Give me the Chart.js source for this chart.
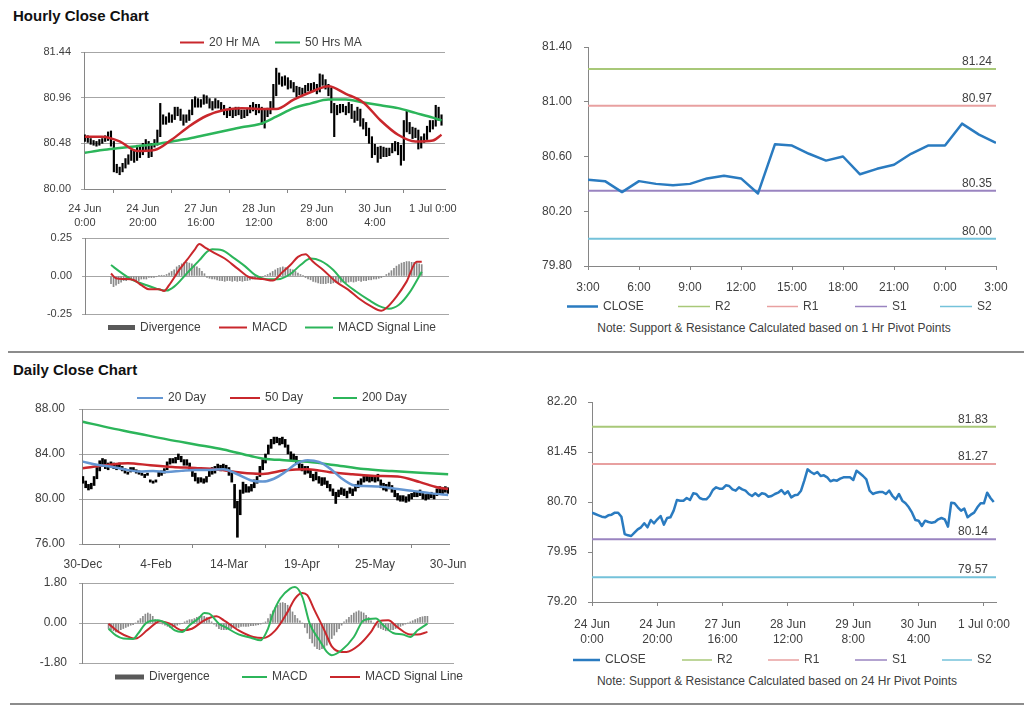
<!DOCTYPE html>
<html>
<head>
<meta charset="utf-8">
<title>Hourly and Daily Close Charts</title>
<script src="https://cdn.jsdelivr.net/npm/chart.js@4.4.1/dist/chart.umd.min.js"></script>
<style>
  html, body { margin: 0; padding: 0; background: #fff; }
  #page { position: relative; width: 1024px; height: 706px; overflow: hidden; font-family: 'Liberation Sans', Arial, sans-serif; }
  #page canvas { position: absolute; left: 0; top: 0; }
  .title { position: absolute; left: 13px; font-weight: bold; font-size: 15px; line-height: 18px; color: #111; }
  .note { position: absolute; font-size: 12px; line-height: 14px; color: #404040; white-space: nowrap; transform: translateX(-50%); }
  .rule { position: absolute; height: 2px; background: #8c8c8c; }
</style>
</head>
<body>
<div id="page">
  <div class="title" style="top:7px">Hourly Close Chart</div>
  <div class="title" style="top:361px">Daily Close Chart</div>
  <div class="rule" style="left:8px;top:351px;width:1016px"></div>
  <div class="rule" style="left:10px;top:703px;width:1014px"></div>
  <div class="note" style="left:774px;top:321px">Note: Support &amp; Resistance Calculated based on 1 Hr Pivot Points</div>
  <div class="note" style="left:777px;top:674px">Note: Support &amp; Resistance Calculated based on 24 Hr Pivot Points</div>
  <canvas id="hourlyPrice" width="1024" height="706"></canvas>
  <canvas id="hourlyMacd" width="1024" height="706"></canvas>
  <canvas id="lastDay" width="1024" height="706"></canvas>
  <canvas id="dailyPrice" width="1024" height="706"></canvas>
  <canvas id="dailyMacd" width="1024" height="706"></canvas>
  <canvas id="week" width="1024" height="706"></canvas>
</div>
<script>
// ---- hourly data (24 Jun 0:00 .. 1 Jul 3:00) ----
const hourlyTickIdx = [0, 20, 40, 60, 80, 100, 120];
const hourlyTickLabels = [['24 Jun', '0:00'], ['24 Jun', '20:00'], ['27 Jun', '16:00'], ['28 Jun', '12:00'], ['29 Jun', '8:00'], ['30 Jun', '4:00'], ['1 Jul 0:00']];

const hourlyClose = [
  80.54, 80.52, 80.50, 80.48, 80.47, 80.50, 80.51, 80.54, 80.54, 80.48,
  80.22, 80.20, 80.19, 80.24, 80.29, 80.32, 80.38, 80.32, 80.43, 80.38,
  80.44, 80.49, 80.36, 80.46, 80.47, 80.57, 80.73, 80.72, 80.72, 80.76,
  80.73, 80.83, 80.82, 80.76, 80.74, 80.74, 80.79, 80.88, 80.92, 80.90,
  80.90, 80.95, 80.94, 80.89, 80.87, 80.92, 80.89, 80.87, 80.82, 80.79,
  80.83, 80.79, 80.83, 80.82, 80.78, 80.79, 80.82, 80.84, 80.88, 80.82,
  80.86, 80.77, 80.80, 80.81, 80.87, 81.02, 81.19, 81.15, 81.12, 81.15,
  81.09, 81.10, 81.07, 81.01, 81.03, 81.02, 81.05, 81.07, 81.07, 81.07,
  81.03, 81.17, 81.13, 81.09, 81.04, 80.87, 80.82, 80.84, 80.85, 80.85,
  80.82, 80.87, 80.79, 80.74, 80.82, 80.72, 80.68, 80.62, 80.54, 80.43,
  80.42, 80.34, 80.42, 80.40, 80.39, 80.40, 80.44, 80.46, 80.44, 80.33,
  80.69, 80.68, 80.62, 80.57, 80.60, 80.47, 80.51, 80.54, 80.62, 80.68,
  80.68, 80.84, 80.76, 80.70
];
const hourlyLow = [
  80.50, 80.49, 80.47, 80.46, 80.45, 80.46, 80.48, 80.50, 80.51, 80.45,
  80.18, 80.17, 80.15, 80.18, 80.22, 80.26, 80.30, 80.28, 80.30, 80.33,
  80.36, 80.40, 80.33, 80.34, 80.44, 80.46, 80.55, 80.68, 80.68, 80.70,
  80.70, 80.73, 80.77, 80.72, 80.67, 80.70, 80.72, 80.78, 80.86, 80.86,
  80.86, 80.89, 80.90, 80.85, 80.83, 80.85, 80.85, 80.83, 80.78, 80.75,
  80.77, 80.75, 80.77, 80.78, 80.74, 80.75, 80.77, 80.80, 80.82, 80.78,
  80.80, 80.68, 80.64, 80.76, 80.79, 80.84, 80.98, 81.10, 81.08, 81.09,
  81.05, 81.06, 81.02, 80.97, 80.99, 80.98, 81.01, 81.03, 81.03, 81.03,
  81.00, 81.02, 81.09, 81.05, 80.98, 80.80, 80.55, 80.78, 80.80, 80.81,
  80.78, 80.80, 80.74, 80.70, 80.72, 80.66, 80.63, 80.56, 80.48, 80.33,
  80.36, 80.28, 80.32, 80.34, 80.34, 80.35, 80.38, 80.40, 80.36, 80.25,
  80.30, 80.60, 80.58, 80.53, 80.54, 80.42, 80.43, 80.49, 80.52, 80.60,
  80.63, 80.66, 80.72, 80.67
];
const hourlyHigh = [
  80.57, 80.56, 80.53, 80.51, 80.50, 80.52, 80.53, 80.56, 80.60, 80.61,
  80.50, 80.26, 80.23, 80.27, 80.32, 80.36, 80.41, 80.40, 80.46, 80.45,
  80.48, 80.52, 80.50, 80.48, 80.52, 80.62, 80.90, 80.78, 80.76, 80.80,
  80.78, 80.86, 80.86, 80.84, 80.78, 80.78, 80.83, 80.94, 80.97, 80.95,
  80.94, 80.99, 80.98, 80.95, 80.92, 80.95, 80.93, 80.91, 80.88, 80.84,
  80.86, 80.84, 80.86, 80.86, 80.83, 80.83, 80.85, 80.88, 80.91, 80.89,
  80.89, 80.86, 80.83, 80.85, 80.92, 81.10, 81.27, 81.22, 81.18, 81.19,
  81.17, 81.14, 81.12, 81.08, 81.07, 81.06, 81.09, 81.11, 81.11, 81.12,
  81.10, 81.21, 81.20, 81.15, 81.10, 81.06, 80.90, 80.88, 80.89, 80.89,
  80.87, 80.91, 80.89, 80.82, 80.86, 80.84, 80.74, 80.70, 80.64, 80.55,
  80.47, 80.44, 80.45, 80.44, 80.43, 80.43, 80.48, 80.50, 80.49, 80.46,
  80.72, 80.82, 80.70, 80.65, 80.64, 80.62, 80.55, 80.58, 80.66, 80.72,
  80.72, 80.88, 80.86, 80.78
];
const hourlyMaIdx = [0, 6, 12, 18, 24, 30, 36, 42, 48, 54, 60, 66, 72, 78, 84, 90, 96, 102, 108, 114, 120, 123];
const hourlyMa20 = [80.55, 80.55, 80.50, 80.40, 80.41, 80.52, 80.66, 80.77, 80.83, 80.85, 80.84, 80.84, 80.94, 81.02, 81.08, 81.00, 80.91, 80.72, 80.57, 80.50, 80.51, 80.57];
const hourlyMa50 = [80.38, 80.41, 80.43, 80.45, 80.47, 80.50, 80.53, 80.57, 80.61, 80.65, 80.68, 80.76, 80.85, 80.90, 80.94, 80.94, 80.91, 80.88, 80.85, 80.80, 80.75, 80.72];
const hourlyPriceTicks = [80.00, 80.48, 80.96, 81.44];

const hourlyMacdIdx = [0, 2, 5, 9, 12, 15, 19, 21, 23, 27, 30, 33, 35, 37, 40, 45, 50, 55, 60, 64, 68, 71, 74, 77, 80, 84, 89, 94, 98, 103, 107, 109, 113, 117, 121, 123];
const hourlyMacd = [0.017, -0.015, -0.02, -0.026, -0.06, -0.087, -0.087, -0.098, -0.06, 0.04, 0.104, 0.17, 0.21, 0.19, 0.16, 0.115, 0.05, -0.01, -0.02, -0.03, 0.028, 0.072, 0.126, 0.143, 0.093, 0.04, -0.037, -0.091, -0.146, -0.2, -0.228, -0.21, -0.135, -0.037, 0.093, 0.093];
const hourlySignalIdx = [0, 4, 8, 13, 18, 22, 25, 30, 35, 38, 40, 44, 48, 53, 57, 62, 66, 71, 75, 79, 83, 88, 92, 97, 102, 106, 110, 114, 118, 123];
const hourlySignal = [0.072, 0.022, -0.022, -0.054, -0.083, -0.096, -0.07, 0.017, 0.104, 0.159, 0.176, 0.17, 0.126, 0.065, 0.007, -0.022, -0.022, 0.013, 0.072, 0.115, 0.1, 0.04, -0.037, -0.102, -0.157, -0.196, -0.215, -0.189, -0.113, 0.028];
const hourlyDivergence = [
  -0.05, -0.07, -0.06, -0.05, -0.04, -0.03, -0.03, -0.02, -0.02, -0.02,
  -0.03, -0.03, -0.02, -0.02, -0.02, -0.01, -0.01, -0.01, -0.005, 0.005,
  0.005, 0.005, 0.01, 0.02, 0.03, 0.04, 0.06, 0.07, 0.08, 0.09,
  0.09, 0.085, 0.08, 0.07, 0.06, 0.05, 0.03, 0.015, -0.01, -0.015,
  -0.02, -0.02, -0.025, -0.03, -0.03, -0.035, -0.03, -0.03, -0.035, -0.03,
  -0.035, -0.03, -0.035, -0.03, -0.03, -0.025, -0.02, -0.02, -0.015, -0.01,
  -0.005, 0.005, 0.01, 0.02, 0.03, 0.04, 0.05, 0.055, 0.06, 0.055,
  0.05, 0.045, 0.04, 0.03, 0.02, 0.01, 0.005, -0.01, -0.02, -0.025,
  -0.035, -0.04, -0.045, -0.05, -0.05, -0.05, -0.045, -0.05, -0.045, -0.04,
  -0.045, -0.04, -0.04, -0.045, -0.04, -0.035, -0.04, -0.035, -0.03, -0.035,
  -0.03, -0.03, -0.025, -0.025, -0.02, -0.02, -0.015, -0.01, -0.005, 0.01,
  0.02, 0.035, 0.05, 0.065, 0.075, 0.085, 0.09, 0.095, 0.095, 0.09,
  0.09, 0.085, 0.08, 0.075
];
const hourlyMacdTicks = [-0.25, 0, 0.25];

// last 24 hours (right-hand hourly chart)
const lastDayStart = 99;
const lastDayClose = hourlyClose.slice(lastDayStart);
const lastDayTickIdx = [0, 3, 6, 9, 12, 15, 18, 21, 24];
const lastDayTickLabels = ['3:00', '6:00', '9:00', '12:00', '15:00', '18:00', '21:00', '0:00', '3:00'];
const lastDayTicks = [79.80, 80.20, 80.60, 81.00, 81.40];

const pivotNames = ['R2', 'R1', 'S1', 'S2'];
const hourlyPivotLevels = [81.24, 80.97, 80.35, 80.00];
const dailyPivotLevels = [81.83, 81.27, 80.14, 79.57];
const weekTicks = [79.20, 79.95, 80.70, 81.45, 82.20];

// ---- daily data (30-Dec .. 30-Jun) ----
const dailyTickIdx = [0, 26, 52, 78, 104, 130];
const dailyTickLabels = ['30-Dec', '4-Feb', '14-Mar', '19-Apr', '25-May', '30-Jun'];
const dailyLow = [
  81.4, 81.0, 80.8, 80.9, 81.2, 81.8, 82.5, 82.9, 82.7, 82.6,
  82.8, 82.7, 82.6, 82.8, 82.5, 82.3, 82.2, 82.4, 82.5, 82.3,
  82.2, 82.1, 81.9, 82.1, 81.5, 81.4, 81.5, 82.0, 82.1, 82.3,
  82.6, 83.1, 83.2, 83.2, 83.5, 83.3, 83.0, 83.0, 82.6, 82.0,
  81.6, 81.4, 81.5, 81.4, 81.5, 82.0, 82.2, 82.3, 82.6, 82.5,
  82.6, 82.5, 82.1, 81.5, 79.2, 76.6, 78.6, 80.5, 80.6, 80.6,
  80.7, 81.0, 81.4, 82.0, 82.6, 83.2, 84.0, 84.5, 84.9, 85.0,
  84.8, 84.9, 84.6, 84.0, 83.5, 83.4, 83.1, 82.7, 82.5, 82.2,
  82.3, 81.9, 81.6, 81.7, 81.4, 81.2, 81.3, 81.0, 80.7, 80.3,
  79.6, 80.2, 80.4, 80.3, 80.1, 80.5, 80.3, 80.7, 81.0, 81.2,
  81.5, 81.6, 81.5, 81.6, 81.5, 81.6, 81.0, 80.8, 80.7, 80.9,
  80.6, 80.2, 79.9, 79.8, 79.8, 79.7, 79.8, 80.0, 80.2, 80.2,
  80.3, 80.0, 79.9, 80.0, 80.1, 80.0, 80.3, 80.5, 80.4, 80.6,
  80.5
];
const dailyHigh = [
  82.0, 81.6, 81.3, 81.4, 82.0, 82.8, 83.4, 83.6, 83.5, 83.2,
  83.3, 83.2, 83.1, 83.2, 82.9, 82.7, 82.4, 82.8, 82.8, 82.6,
  82.5, 82.3, 82.2, 82.3, 81.7, 81.6, 81.7, 82.4, 82.5, 82.7,
  83.3, 83.6, 83.6, 83.7, 84.0, 83.8, 83.5, 83.5, 83.2, 82.8,
  82.3, 81.9, 81.9, 81.8, 82.0, 82.6, 82.8, 82.9, 83.1, 83.0,
  83.1, 83.0, 82.8, 82.3, 81.3, 79.8, 80.8, 81.5, 81.3, 81.1,
  81.3, 81.7, 82.0, 82.9, 83.5, 84.0, 84.8, 85.3, 85.5, 85.5,
  85.4, 85.5, 85.3, 84.8, 84.2, 84.0, 83.8, 83.4, 83.1, 82.9,
  82.9, 82.6, 82.2, 82.4, 82.0, 81.9, 81.9, 81.6, 81.3, 80.9,
  80.6, 80.8, 81.0, 80.9, 80.7, 81.0, 80.9, 81.3, 81.6, 81.8,
  82.0, 82.1, 82.0, 82.1, 82.0, 82.2, 81.7, 81.4, 81.3, 81.5,
  81.2, 80.8, 80.5, 80.3, 80.3, 80.2, 80.4, 80.5, 80.7, 80.7,
  80.8, 80.5, 80.4, 80.5, 80.6, 80.5, 80.9, 81.1, 81.0, 81.1,
  81.0
];
const dailyMa20Idx = [0, 5, 10, 15, 20, 25, 30, 35, 40, 45, 50, 55, 60, 64, 68, 72, 76, 80, 84, 88, 92, 96, 100, 106, 112, 118, 124, 130];
const dailyMa20 = [83.32, 83.05, 82.87, 82.62, 82.45, 82.50, 82.40, 82.50, 82.58, 82.58, 82.65, 82.20, 81.65, 81.55, 81.80, 82.40, 83.15, 83.45, 83.30, 82.70, 81.85, 81.25, 81.15, 81.10, 80.88, 80.70, 80.50, 80.36];
const dailyMa50Idx = [0, 8, 16, 24, 32, 40, 48, 56, 64, 72, 80, 88, 96, 104, 112, 120, 126, 130];
const dailyMa50 = [82.73, 83.00, 83.18, 83.00, 82.85, 82.75, 82.62, 82.35, 82.22, 82.55, 82.65, 82.38, 82.20, 82.05, 82.00, 81.50, 81.05, 80.88];
const dailyMa200Idx = [0, 10, 20, 30, 40, 50, 60, 65, 70, 80, 90, 100, 110, 120, 130];
const dailyMa200 = [86.87, 86.30, 85.80, 85.30, 84.85, 84.40, 83.80, 83.55, 83.48, 83.30, 83.00, 82.66, 82.48, 82.33, 82.21];
const dailyPriceTicks = [76, 80, 84, 88];

const dailyMacdIdx = [0, 3, 6, 10, 12, 15, 17, 20, 24, 27, 30, 33, 37, 39, 41, 45, 48, 53, 58, 62, 65, 67, 70, 74, 76, 79, 82, 86, 89, 91, 95, 100, 104, 109, 112, 116, 120, 123, 126, 130];
const dailyMacd = [-0.26, -0.56, -0.7, -0.72, -0.48, -0.03, 0.09, 0.12, -0.06, -0.33, -0.4, -0.1, 0.24, 0.45, 0.42, -0.03, -0.21, -0.51, -0.66, -0.78, -0.26, 0.42, 1.1, 1.55, 1.62, 1.17, -0.03, -0.78, -1.3, -1.45, -1.23, -0.63, 0.12, 0.2, -0.1, -0.45, -0.52, -0.63, -0.33, -0.03];
const dailySignalIdx = [0, 4, 9, 11, 16, 21, 25, 30, 34, 39, 44, 47, 53, 59, 63, 68, 73, 76, 79, 81, 84, 88, 91, 95, 97, 102, 107, 110, 114, 118, 123, 126, 130];
const dailySignal = [-0.03, -0.4, -0.66, -0.7, -0.3, 0.08, -0.03, -0.33, -0.26, 0.12, 0.3, 0.12, -0.33, -0.63, -0.68, -0.33, 0.5, 1.1, 1.35, 1.25, 0.57, -0.33, -1.05, -1.3, -1.3, -1.0, -0.4, 0.08, 0.12, -0.21, -0.52, -0.52, -0.4];
const dailyDivergence = [
  -0.25, -0.3, -0.35, -0.4, -0.35, -0.3, -0.25, -0.2, -0.15, -0.1,
  -0.08, 0.0, 0.1, 0.2, 0.3, 0.4, 0.45, 0.4, 0.3, 0.15,
  0.05, 0.0, -0.05, -0.1, -0.15, -0.2, -0.2, -0.15, -0.1, -0.05,
  -0.02, 0.05, 0.1, 0.15, 0.15, 0.2, 0.25, 0.3, 0.3, 0.3,
  0.25, 0.15, 0.05, -0.05, -0.15, -0.25, -0.3, -0.3, -0.3, -0.25,
  -0.25, -0.2, -0.2, -0.2, -0.15, -0.15, -0.15, -0.15, -0.12, -0.12,
  -0.1, -0.08, -0.05, 0.0, 0.05, 0.2, 0.4, 0.55, 0.7, 0.8,
  0.9, 0.92, 0.88, 0.8, 0.65, 0.5, 0.35, 0.2, 0.1, 0.0,
  -0.2, -0.45, -0.7, -0.9, -1.05, -1.15, -1.2, -1.15, -1.1, -1.0,
  -0.85, -0.7, -0.55, -0.4, -0.25, -0.1, 0.05, 0.15, 0.25, 0.35,
  0.45, 0.5, 0.55, 0.5, 0.45, 0.35, 0.25, 0.1, 0.0, -0.1,
  -0.2, -0.25, -0.3, -0.35, -0.35, -0.3, -0.3, -0.25, -0.2, -0.15,
  -0.1, -0.05, 0.0, 0.05, 0.1, 0.15, 0.2, 0.25, 0.28, 0.3,
  0.3
];
const dailyMacdTicks = [-1.8, 0, 1.8];

// ---- styling ----
const FONT = "'Liberation Sans', Arial, Helvetica, sans-serif";
const TEXT = '#404040';
const AXIS = '#868686';
const GRID = '#a6a6a6';
const RED = '#c9272c';
const GREEN = '#2cb55a';
const BLUE_MA = '#6496d2';
const CLOSE_BLUE = '#2a7bc0';
const PIVOT_COLORS = ['#a8c878', '#e8a0a0', '#9a84c0', '#74c2da'];
const PAGE_W = 1024;
const PAGE_H = 706;

const series = vals => vals.map((y, x) => ({x, y}));
const sampled = (idx, vals) => idx.map((x, k) => ({x, y: vals[k]}));
const ranges = (lo, hi) => lo.map((l, x) => ({x, y: [l, hi[x]]}));
const flat = (v, xMax) => [{x: 0, y: v}, {x: xMax, y: v}];
const fixedTicks = values => scale => { scale.ticks = values.map(value => ({value})); };

const frame = (area, xh) => ({
  padding: { left: 0, top: area.top, right: PAGE_W - area.right, bottom: PAGE_H - area.bottom - xh }
});

const xAxis = o => ({
  type: 'linear', min: o.min, max: o.max, offset: false,
  afterFit: s => { s.height = o.height; },
  afterBuildTicks: fixedTicks(o.ticks),
  ticks: {
    autoSkip: false, maxRotation: 0, padding: o.pad, color: TEXT,
    font: { family: FONT, size: o.size, lineHeight: o.lh || '15px' },
    callback: (v, i) => o.labels[i]
  },
  grid: { drawOnChartArea: false, tickLength: 4, color: AXIS },
  border: { color: AXIS }
});

const hiddenX = (min, max) => ({ type: 'linear', min, max, display: false });

const yAxis = o => ({
  min: o.min, max: o.max,
  afterFit: s => { s.width = o.width; },
  afterBuildTicks: fixedTicks(o.ticks),
  ticks: { padding: o.pad, color: TEXT, font: { family: FONT, size: o.size }, callback: v => v.toFixed(2) },
  grid: { drawOnChartArea: o.grid, color: o.grid ? GRID : AXIS, tickLength: o.tick },
  border: { color: AXIS }
});

const line = (label, data, color, width, order) => ({
  label, data, borderColor: color, borderWidth: width, pointRadius: 0,
  fill: false, cubicInterpolationMode: 'monotone', order
});
const straight = (label, data, color, width, order) => ({
  label, data, borderColor: color, borderWidth: width, pointRadius: 0,
  fill: false, tension: 0, borderJoinStyle: 'round', order
});
const rangeBars = (lo, hi, thickness) => ({
  type: 'bar', label: 'Price', data: ranges(lo, hi), backgroundColor: '#000', barThickness: thickness, order: 5
});
const histogram = vals => ({
  type: 'bar', label: 'Divergence', data: series(vals), backgroundColor: '#8a8a8a', barThickness: 1, order: 5
});

// legend row drawn at fixed spots, texts and colours taken from the datasets
const rowLegend = {
  id: 'rowLegend',
  afterDraw(chart, args, opts) {
    if (!opts.items) return;
    const ctx = chart.ctx;
    ctx.save();
    ctx.font = '12px ' + FONT;
    ctx.textBaseline = 'middle';
    opts.items.forEach(item => {
      const ds = chart.data.datasets[item.ds];
      if (item.box) {
        ctx.fillStyle = item.box;
        ctx.fillRect(item.x, opts.y - 2.5, item.w, 5);
      } else {
        ctx.strokeStyle = ds.borderColor;
        ctx.lineWidth = item.lw || 2;
        ctx.beginPath();
        ctx.moveTo(item.x, opts.y);
        ctx.lineTo(item.x + item.w, opts.y);
        ctx.stroke();
      }
      ctx.fillStyle = TEXT;
      ctx.fillText(ds.label, item.x + item.w + 5, opts.y);
    });
    ctx.restore();
  }
};

// value printed above each pivot line
const levelLabels = {
  id: 'levelLabels',
  afterDatasetsDraw(chart, args, opts) {
    if (!opts.values) return;
    const {ctx, chartArea, scales} = chart;
    ctx.save();
    ctx.font = '12px ' + FONT;
    ctx.fillStyle = TEXT;
    ctx.textAlign = 'right';
    ctx.textBaseline = 'alphabetic';
    opts.values.forEach(v => {
      ctx.fillText(v.toFixed(2), chartArea.right - opts.inset, scales.y.getPixelForValue(v) - 4);
    });
    ctx.restore();
  }
};

Chart.register(rowLegend, levelLabels);

const base = { responsive: false, animation: false, events: [] };
const quiet = { legend: { display: false }, tooltip: { enabled: false } };

const pivotSets = (levels, xMax) => levels.map((v, k) =>
  straight(pivotNames[k], flat(v, xMax), PIVOT_COLORS[k], 2, 2));
const pivotLegend = (y, xs, ws) => ({
  y, items: [0, 1, 2, 3, 4].map(k => ({ ds: k, x: xs[k], w: ws[k], lw: k === 0 ? 2.5 : 1.5 }))
});

// ---- hourly close (left) ----
const areaA = { left: 84, top: 52, right: 445, bottom: 189 };
new Chart(document.getElementById('hourlyPrice'), {
  type: 'line',
  data: { datasets: [
    rangeBars(hourlyLow, hourlyHigh, 1.5),
    line('20 Hr MA', sampled(hourlyMaIdx, hourlyMa20), RED, 2.5, 1),
    line('50 Hrs MA', sampled(hourlyMaIdx, hourlyMa50), GREEN, 2.5, 2)
  ]},
  options: { ...base,
    layout: frame(areaA, 46),
    plugins: { ...quiet, rowLegend: { y: 42.5, items: [{ ds: 1, x: 180, w: 24 }, { ds: 2, x: 275, w: 25 }] } },
    scales: {
      x: xAxis({ min: -0.3, max: 124.2, height: 46, pad: 9, lh: '14px', size: 11, ticks: hourlyTickIdx, labels: hourlyTickLabels }),
      y: yAxis({ min: 80, max: 81.44, width: areaA.left, ticks: hourlyPriceTicks, pad: 10, size: 11, grid: true, tick: 3 })
    }
  }
});

// ---- hourly MACD ----
const areaB = { left: 85, top: 238, right: 449, bottom: 314 };
new Chart(document.getElementById('hourlyMacd'), {
  type: 'line',
  data: { datasets: [
    histogram(hourlyDivergence),
    line('MACD', sampled(hourlyMacdIdx, hourlyMacd), RED, 2, 1),
    line('MACD Signal Line', sampled(hourlySignalIdx, hourlySignal), GREEN, 2, 2)
  ]},
  options: { ...base,
    layout: frame(areaB, 0),
    plugins: { ...quiet, rowLegend: { y: 327.5, items: [
      { ds: 0, x: 108, w: 27, box: '#595959' }, { ds: 1, x: 219, w: 28 }, { ds: 2, x: 305, w: 28 }] } },
    scales: {
      x: hiddenX(0, 123.5),
      y: yAxis({ min: -0.25, max: 0.25, width: areaB.left, ticks: hourlyMacdTicks, pad: 10, size: 11, grid: true, tick: 3 })
    }
  }
});

// ---- last 24 hours with 1 Hr pivots ----
const areaC = { left: 588, top: 47, right: 996, bottom: 266 };
new Chart(document.getElementById('lastDay'), {
  type: 'line',
  data: { datasets: [
    straight('CLOSE', series(lastDayClose), CLOSE_BLUE, 2.5, 0),
    ...pivotSets(hourlyPivotLevels, 24)
  ]},
  options: { ...base,
    layout: frame(areaC, 30),
    plugins: { ...quiet,
      levelLabels: { values: hourlyPivotLevels, inset: 4 },
      rowLegend: pivotLegend(306.5, [567, 678, 767, 855, 940], [31, 32, 31, 32, 32]) },
    scales: {
      x: xAxis({ min: 0, max: 24, height: 30, pad: 10, size: 12, ticks: lastDayTickIdx, labels: lastDayTickLabels }),
      y: yAxis({ min: 79.8, max: 81.4, width: areaC.left, ticks: lastDayTicks, pad: 12, size: 12, grid: false, tick: 4 })
    }
  }
});

// ---- daily close (left) ----
const areaD = { left: 82, top: 409, right: 449, bottom: 544 };
new Chart(document.getElementById('dailyPrice'), {
  type: 'line',
  data: { datasets: [
    rangeBars(dailyLow, dailyHigh, 2),
    line('20 Day', sampled(dailyMa20Idx, dailyMa20), BLUE_MA, 2.5, 1),
    line('50 Day', sampled(dailyMa50Idx, dailyMa50), RED, 2.5, 2),
    line('200 Day', sampled(dailyMa200Idx, dailyMa200), GREEN, 2.5, 3)
  ]},
  options: { ...base,
    layout: frame(areaD, 30),
    plugins: { ...quiet, rowLegend: { y: 398, items: [
      { ds: 1, x: 137, w: 26 }, { ds: 2, x: 230, w: 30 }, { ds: 3, x: 333, w: 24 }] } },
    scales: {
      x: xAxis({ min: -0.3, max: 130.3, height: 30, pad: 9, size: 12, ticks: dailyTickIdx, labels: dailyTickLabels }),
      y: yAxis({ min: 76, max: 88, width: areaD.left, ticks: dailyPriceTicks, pad: 14, size: 12, grid: true, tick: 3 })
    }
  }
});

// ---- daily MACD ----
const areaE = { left: 82, top: 583, right: 454, bottom: 663 };
new Chart(document.getElementById('dailyMacd'), {
  type: 'line',
  data: { datasets: [
    histogram(dailyDivergence),
    line('MACD', sampled(dailyMacdIdx, dailyMacd), GREEN, 2, 1),
    line('MACD Signal Line', sampled(dailySignalIdx, dailySignal), RED, 2, 2)
  ]},
  options: { ...base,
    layout: frame(areaE, 0),
    plugins: { ...quiet, rowLegend: { y: 677, items: [
      { ds: 0, x: 115, w: 29, box: '#595959' }, { ds: 1, x: 242, w: 25 }, { ds: 2, x: 330, w: 30 }] } },
    scales: {
      x: hiddenX(0, 130),
      y: yAxis({ min: -1.8, max: 1.8, width: areaE.left, ticks: dailyMacdTicks, pad: 12, size: 12, grid: true, tick: 3 })
    }
  }
});

// ---- hourly week with 24 Hr pivots ----
const areaF = { left: 592, top: 402, right: 996, bottom: 602 };
const weekMaxX = 123.7;
new Chart(document.getElementById('week'), {
  type: 'line',
  data: { datasets: [
    straight('CLOSE', series(hourlyClose), CLOSE_BLUE, 2.5, 0),
    ...pivotSets(dailyPivotLevels, weekMaxX)
  ]},
  options: { ...base,
    layout: frame(areaF, 50),
    plugins: { ...quiet,
      levelLabels: { values: dailyPivotLevels, inset: 8 },
      rowLegend: pivotLegend(660, [573, 682, 768, 855, 942], [27, 30, 31, 32, 30]) },
    scales: {
      x: xAxis({ min: 0, max: weekMaxX, height: 50, pad: 11.5, size: 12, ticks: hourlyTickIdx, labels: hourlyTickLabels }),
      y: yAxis({ min: 79.2, max: 82.2, width: areaF.left, ticks: weekTicks, pad: 11, size: 12, grid: false, tick: 4 })
    }
  }
});
</script>
</body>
</html>
